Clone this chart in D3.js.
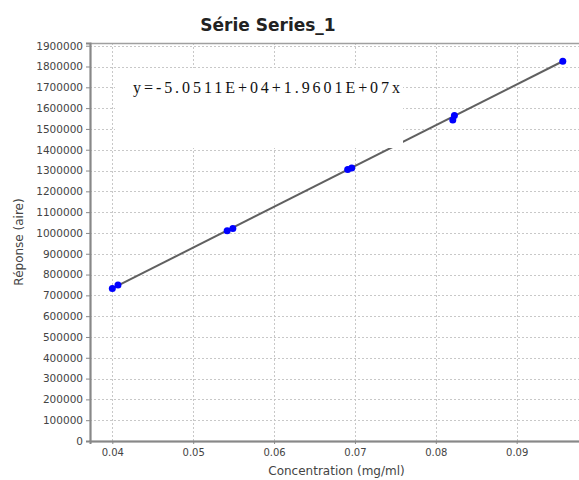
<!DOCTYPE html>
<html>
<head>
<meta charset="utf-8">
<script src="https://cdn.jsdelivr.net/npm/d3@7"></script>
<style>
  html, body { margin: 0; padding: 0; background: #fff; }
  svg { display: block; }
</style>
</head>
<body>
<svg id="chart" width="579" height="480"></svg>
<script>
// Calibration data: concentration (mg/ml) vs. peak area
const concentration = [0.0400, 0.0407, 0.0542, 0.0549, 0.0691, 0.0696, 0.0821, 0.0823, 0.0957];
const response = [733000, 750000, 1011000, 1021000, 1305000, 1312000, 1543000, 1565000, 1825000];

// Least-squares fit y = a + b·x
const intercept = -5.0511e4;
const slope = 1.9601e7;
const equationLabel = "y=-5.0511E+04+1.9601E+07x";

const yTicks = d3.range(0, 2000000, 100000);
const xTicks = [0.04, 0.05, 0.06, 0.07, 0.08, 0.09];

const title = "Série Series_1";
const xLabel = "Concentration (mg/ml)";
const yLabel = "Réponse (aire)";

const svg = d3.select("#chart");
const plot = { left: 90, right: 583, top: 43, bottom: 441 };

const x = d3.scaleLinear().domain([0.03724, 0.0982]).range([plot.left, plot.right]);
const y = d3.scaleLinear().domain([0, 1913000]).range([plot.bottom, plot.top]);

// plot background
svg.append("rect")
  .attr("x", plot.left).attr("y", plot.top)
  .attr("width", plot.right - plot.left).attr("height", plot.bottom - plot.top)
  .attr("fill", "#fff");

// dotted grid
const grid = svg.append("g").attr("stroke", "#c8c8c8").attr("stroke-width", 1)
  .attr("stroke-dasharray", "2,2").attr("shape-rendering", "crispEdges");
grid.selectAll("line.h").data(yTicks.slice(1)).join("line").attr("class", "h")
  .attr("x1", plot.left).attr("x2", plot.right)
  .attr("y1", d => Math.round(y(d)) + 0.5).attr("y2", d => Math.round(y(d)) + 0.5);
grid.selectAll("line.v").data(xTicks).join("line").attr("class", "v")
  .attr("y1", plot.top).attr("y2", plot.bottom)
  .attr("x1", d => Math.round(x(d)) + 0.5).attr("x2", d => Math.round(x(d)) + 0.5);

// plot outline
svg.append("rect")
  .attr("x", plot.left + 0.5).attr("y", plot.top + 0.5)
  .attr("width", plot.right - plot.left).attr("height", plot.bottom - plot.top)
  .attr("fill", "none").attr("stroke", "#a0a0a0").attr("stroke-width", 1.5);

// fitted line across the measured range
const xr = d3.extent(concentration);
svg.append("line")
  .attr("x1", x(xr[0])).attr("y1", y(intercept + slope * xr[0]))
  .attr("x2", x(xr[1])).attr("y2", y(intercept + slope * xr[1]))
  .attr("stroke", "#606060").attr("stroke-width", 2);

// equation annotation on a white box
svg.append("rect")
  .attr("x", 115).attr("y", 68).attr("width", 288).attr("height", 80)
  .attr("fill", "#fff");
svg.append("text")
  .attr("x", 133).attr("y", 93)
  .attr("textLength", 267).attr("lengthAdjust", "spacing")
  .attr("font-family", "Liberation Serif, serif").attr("font-size", 16)
  .attr("fill", "#111")
  .text(equationLabel);

// axes
const yAxis = svg.append("g")
  .attr("transform", `translate(${plot.left},0)`)
  .call(d3.axisLeft(y).tickValues(yTicks).tickSize(4).tickPadding(3).tickFormat(d3.format("d")));
const xAxis = svg.append("g")
  .attr("transform", `translate(0,${plot.bottom})`)
  .call(d3.axisBottom(x).tickValues(xTicks).tickSize(3).tickPadding(5).tickFormat(d3.format(".2f")));

[yAxis, xAxis].forEach(g => {
  g.select(".domain").attr("stroke", "#888").attr("stroke-width", 2);
  g.selectAll(".tick line").attr("stroke", "#888");
  g.selectAll(".tick text")
    .attr("font-family", "DejaVu Sans, sans-serif").attr("font-size", 10)
    .attr("fill", "#444");
});
yAxis.selectAll(".tick text").attr("font-size", 10.5);

// data points
svg.append("g").selectAll("circle")
  .data(concentration.map((c, i) => [c, response[i]]))
  .join("circle")
  .attr("cx", d => x(d[0])).attr("cy", d => y(d[1]))
  .attr("r", 3.5).attr("fill", "#0000ff");

// titles
svg.append("text")
  .attr("x", 268).attr("y", 31).attr("text-anchor", "middle")
  .attr("font-family", "DejaVu Sans, sans-serif").attr("font-weight", "bold")
  .attr("font-size", 17).attr("fill", "#222")
  .text(title);

svg.append("text")
  .attr("x", (plot.left + plot.right) / 2).attr("y", 475).attr("text-anchor", "middle")
  .attr("font-family", "DejaVu Sans, sans-serif").attr("font-size", 12).attr("fill", "#444")
  .text(xLabel);

svg.append("text")
  .attr("transform", `translate(23,${(plot.top + plot.bottom) / 2}) rotate(-90)`)
  .attr("text-anchor", "middle")
  .attr("font-family", "DejaVu Sans, sans-serif").attr("font-size", 12).attr("fill", "#444")
  .text(yLabel);
</script>
</body>
</html>
